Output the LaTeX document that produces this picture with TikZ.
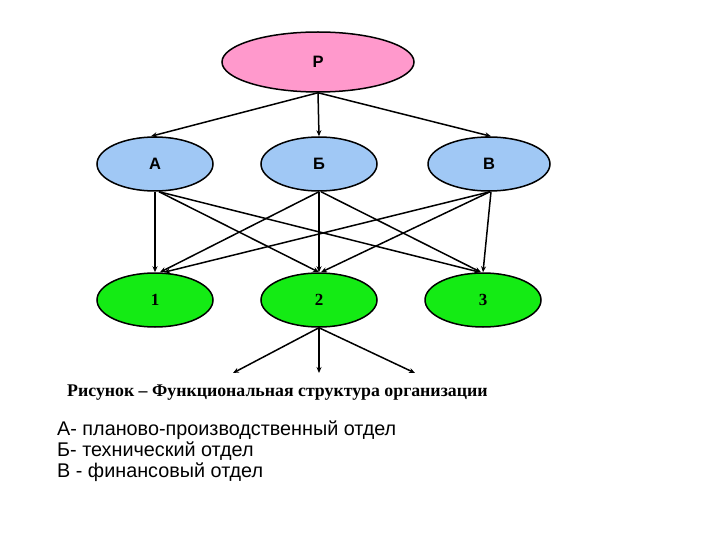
\documentclass[tikz,border=0pt]{standalone}
\usepackage{fontspec}
\setmainfont{Liberation Serif}
\newfontfamily\arialf{Liberation Sans}
\usetikzlibrary{arrows.meta}
\definecolor{pinkf}{RGB}{255,153,204}
\definecolor{bluef}{RGB}{160,200,245}
\definecolor{greenf}{RGB}{20,235,20}
\tikzset{
  ell/.style={ellipse, draw=black, line width=1.5pt, inner sep=0pt, minimum width=116pt, minimum height=54pt},
  lbl/.style={font=\arialf\bfseries\fontsize{16.5}{18}\selectfont},
  num/.style={font=\bfseries\fontsize{17}{19}\selectfont},
  arr/.style={-{Stealth[length=6pt,width=5pt]}, line width=1.5pt}
}
\usetikzlibrary{shapes.geometric}
\begin{document}
\begin{tikzpicture}[x=1pt,y=-1pt]
\useasboundingbox[fill=white] (0,0) rectangle (720,540);
\node[ell, fill=pinkf, minimum width=192pt, minimum height=60pt, lbl] (P) at (318,62) {Р};
\node[ell, fill=bluef, lbl] (A) at (155,164) {А};
\node[ell, fill=bluef, lbl] (B) at (319,164) {Б};
\node[ell, fill=bluef, lbl, minimum width=122pt] (V) at (489,164) {В};
\node[ell, fill=greenf, num] (n1) at (155,300) {1};
\node[ell, fill=greenf, num] (n2) at (319,300) {2};
\node[ell, fill=greenf, num] (n3) at (483,300) {3};
% top arrows
\draw[arr] (P.south) -- ([xshift=-4pt]A.north);
\draw[arr] (P.south) -- (B.north);
\draw[arr] (P.south) -- ([xshift=2pt]V.north);
% middle arrows
\draw[arr] (A.south) -- (n1.north);
\draw[arr] ([xshift=4pt]A.south) -- (n2.north);
\draw[arr] ([xshift=4pt]A.south) -- ([xshift=-3pt]n3.north);
\draw[arr] (B.south) -- ([xshift=5pt]n1.north);
\draw[arr] (B.south) -- (n2.north);
\draw[arr] ([xshift=2pt]B.south) -- ([xshift=-2pt]n3.north);
\draw[arr] ([xshift=1pt]V.south) -- ([xshift=9pt]n1.north);
\draw[arr] ([xshift=1pt]V.south) -- ([xshift=2pt]n2.north);
\draw[arr] ([xshift=2pt]V.south) -- (n3.north);
% bottom arrows
\coordinate (d1) at (233,373);
\coordinate (d2) at (319,373);
\coordinate (d3) at (415,373);
\draw[arr] (n2.south) -- (d1);
\draw[arr] (n2.south) -- (d2);
\draw[arr] (n2.south) -- (d3);
% caption
\node[font=\bfseries\fontsize{17.8}{20}\selectfont, anchor=west, inner sep=0pt] (cap) at (67,393) {Рисунок – Функциональная структура организации};
\node[font=\arialf\fontsize{19.8}{21}\selectfont, anchor=north west, inner sep=0pt, align=left] (leg) at (57,421)
{А- планово-производственный отдел\\Б- технический отдел\\В - финансовый отдел};
\end{tikzpicture}
\end{document}
